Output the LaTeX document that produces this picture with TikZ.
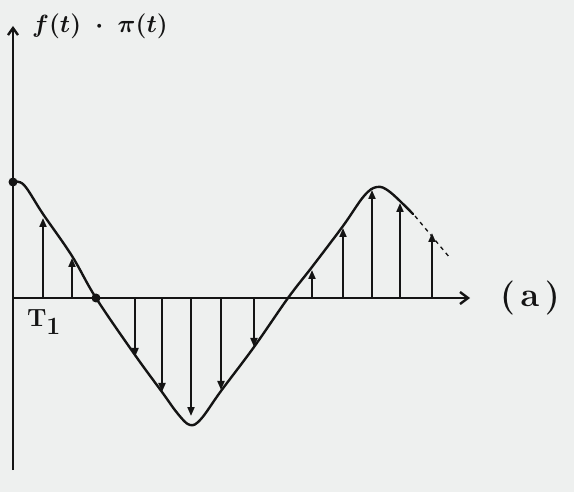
\documentclass[tikz,border=0pt]{standalone}
\usetikzlibrary{arrows.meta}
\definecolor{paper}{RGB}{238,240,239}
\definecolor{ink}{RGB}{20,20,20}
\tikzset{
  axis/.style={draw=ink, line width=2.4pt},
  curve/.style={draw=ink, line width=2.4pt, line cap=round, line join=round},
  sample/.style={draw=ink, line width=2pt, -{Triangle[length=9pt,width=7pt]}},
  lab/.style={text=ink, font=\fontsize{34}{38}\selectfont\boldmath\bfseries},
}
\begin{document}
\begin{tikzpicture}[x=1pt,y=-1pt]
\fill[paper] (0,0) rectangle (574,492);
\useasboundingbox (0,0) rectangle (574,492);
% axes
\coordinate (o) at (13,298);
\coordinate (ytop) at (13,26);
\coordinate (ybot) at (13,470);
\coordinate (xend) at (470,298);
\draw[axis, -{Straight Barb[length=7pt,width=10pt]}] (ybot) -- (ytop);
\draw[axis, -{Straight Barb[length=8pt,width=12pt]}] (o) -- (xend);
% labels
\node[lab, anchor=west, inner sep=0pt] (ylab) at (32,26) {$f(t)\;\cdot\;\pi(t)$};
\node[lab, inner sep=0pt] (t1) at (44,322) {$\mathrm{T}_1$};
\node[lab, inner sep=0pt] (alab) at (530,298) {(\,a\,)};
% samples
\foreach \x/\y [count=\i] in {43/218, 72/258, 135/357, 162/392, 191/416, 221/390, 254/347, 312/270, 343/228, 372/190, 400/203, 432/233} {
  \coordinate (b\i) at (\x,298);
  \coordinate (s\i) at (\x,\y);
  \draw[sample] (b\i) -- (s\i);
}
% continuous signal
\draw[curve] plot[smooth, tension=0.6] coordinates {(13,182) (24,185) (43,214) (72,256) (96,298) (135,355) (162,392) (178,414) (190,425) (201,419) (221,391) (254,347) (288,298) (312,267) (343,226) (364,196) (377,187) (390,192) (413,214)};
\draw[ink, line width=1.3pt, dash pattern=on 4pt off 4pt] (415,216) -- (450,258);
% dots
\coordinate (d0) at (13,182);
\coordinate (d1) at (96,298);
\fill[ink] (d0) circle (4.5);
\fill[ink] (d1) circle (4.5);
\end{tikzpicture}
\end{document}
